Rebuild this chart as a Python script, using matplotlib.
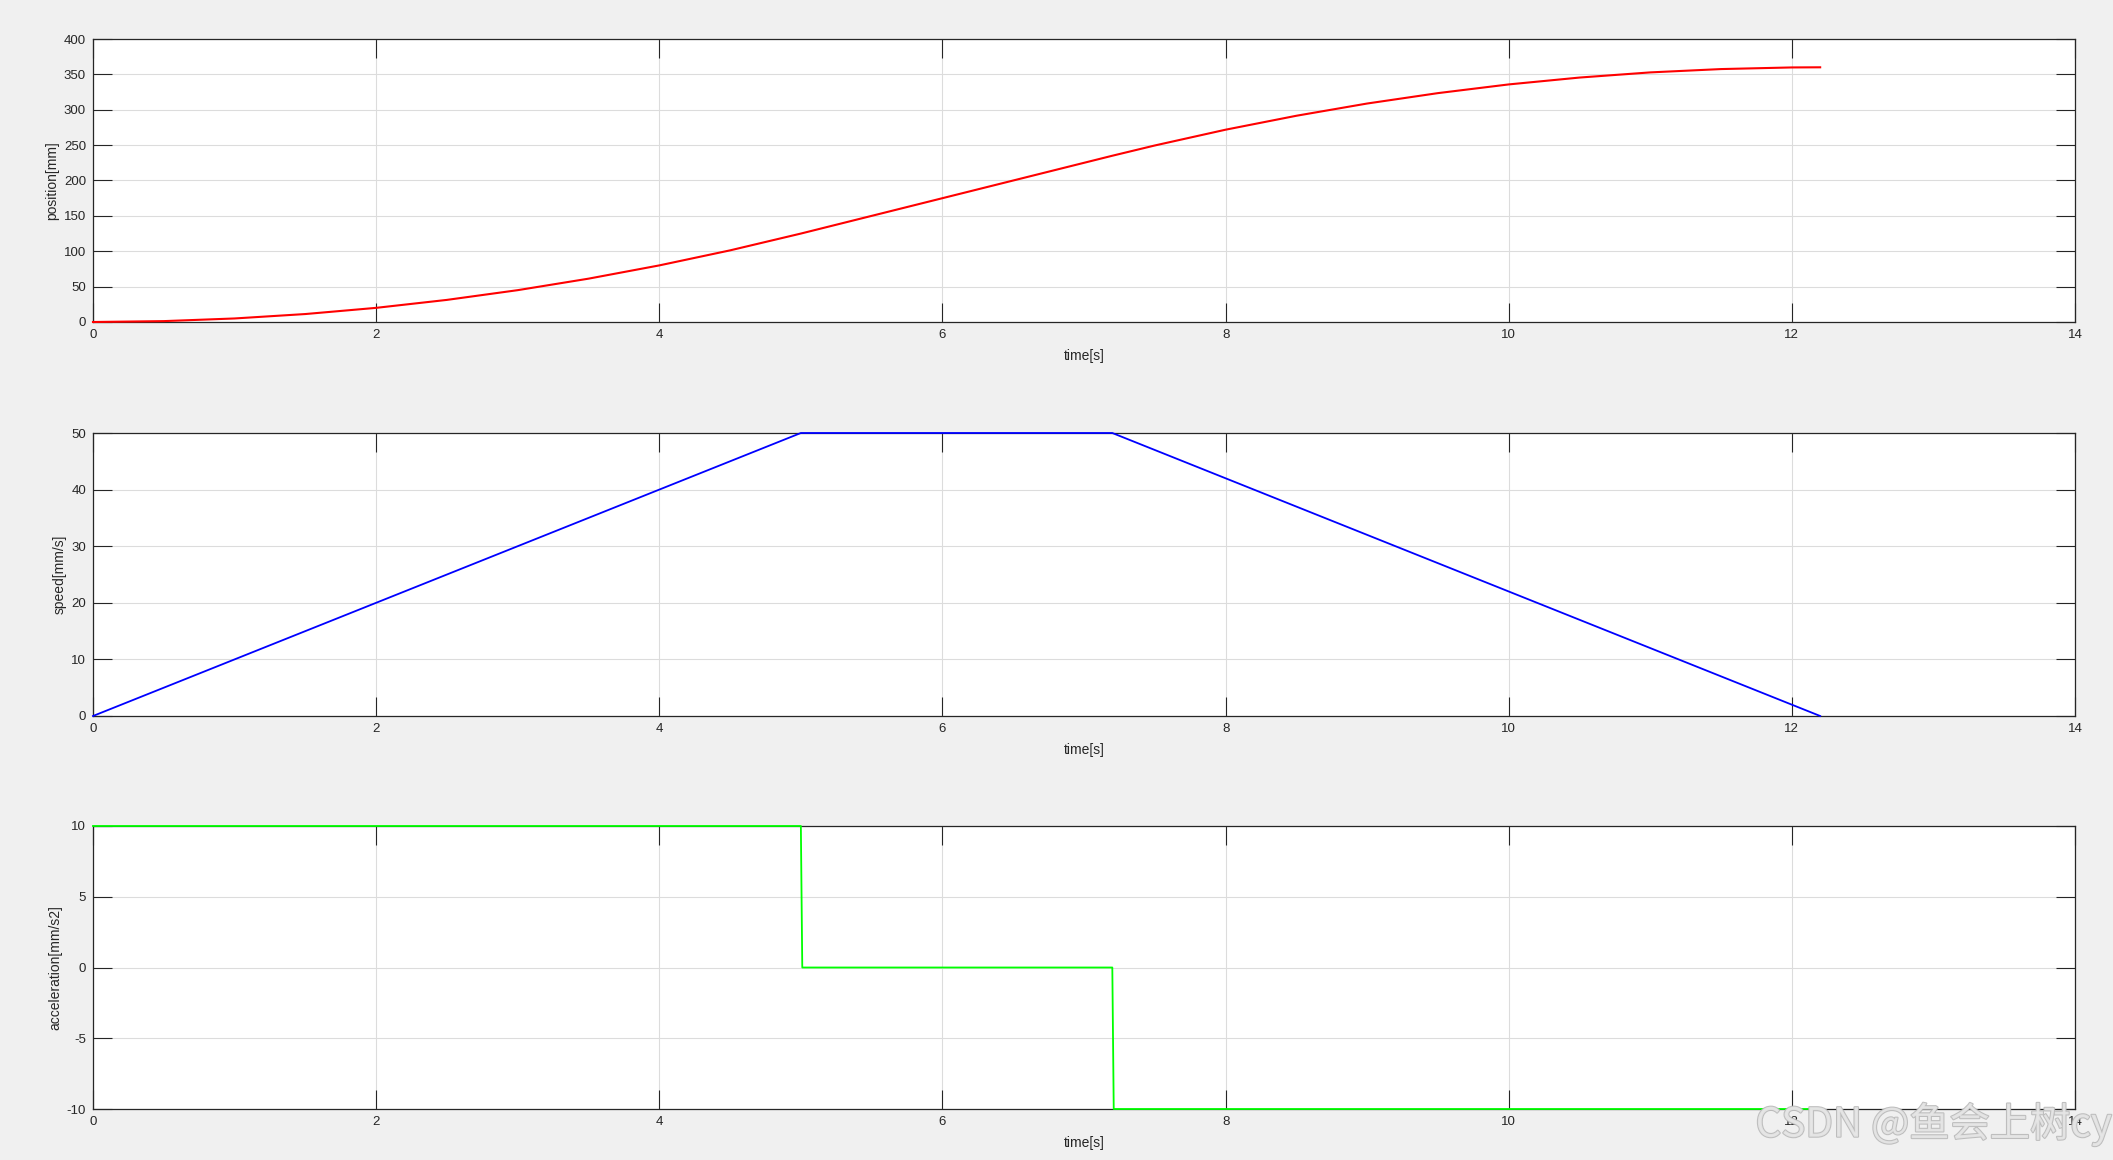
import matplotlib
matplotlib.use("Agg")
import matplotlib.pyplot as plt
import matplotlib.patheffects as pe

# 시간축 데이터
t_pos = [0, 0.5, 1, 1.5, 2, 2.5, 3, 3.5, 4, 4.5, 5, 5.5, 6, 6.5, 7, 7.2,
         7.5, 8, 8.5, 9, 9.5, 10, 10.5, 11, 11.5, 12, 12.2]
position = [0, 1.25, 5, 11.25, 20, 31.25, 45, 61.25, 80, 101.25, 125, 150, 175, 200, 225, 235,
            249.5, 271.8, 291.5, 308.8, 323.5, 335.8, 345.5, 352.8, 357.5, 359.8, 360]

t_spd = [0, 5, 7.2, 12.2]
speed = [0, 50, 50, 0]

t_acc = [0, 5.0, 5.01, 7.2, 7.21, 12.2]
accel = [10, 10, 0, 0, -10, -10]

x_ticks = [0, 2, 4, 6, 8, 10, 12, 14]
pos_ticks = [0, 50, 100, 150, 200, 250, 300, 350, 400]
spd_ticks = [0, 10, 20, 30, 40, 50]
acc_ticks = [-10, -5, 0, 5, 10]

plt.rcParams['font.family'] = ['Liberation Sans', 'DejaVu Sans']
plt.rcParams['font.size'] = 9.5
plt.rcParams['axes.unicode_minus'] = False  # 마이너스 기호는 하이픈으로

fig = plt.figure(figsize=(21.13, 11.6), dpi=100, facecolor='#f0f0f0')

left, width = 93 / 2113, (2075 - 93) / 2113
tops = [39, 433, 826]
h = (322 - 39) / 1160

panels = [
    (t_pos, position, 'red', 1.5, pos_ticks, (0, 400), 'position[mm]'),
    (t_spd, speed, 'blue', 1.3, spd_ticks, (0, 50), 'speed[mm/s]'),
    (t_acc, accel, '#00ff00', 1.3, acc_ticks, (-10, 10), 'acceleration[mm/s2]'),
]

for top, (tx, ty, col, lw, yt, ylim, ylab) in zip(tops, panels):
    ax = fig.add_axes([left, 1 - top / 1160 - h, width, h])
    ax.set_facecolor('white')
    ax.plot(tx, ty, color=col, lw=lw, clip_on=False, zorder=3)
    ax.set_xlim(0, 14)
    ax.set_ylim(*ylim)
    ax.set_xticks(x_ticks)
    ax.set_yticks(yt)
    ax.grid(True, color='#dcdcdc', lw=0.8)
    ax.set_axisbelow(True)
    ax.tick_params(direction='in', length=13.5, width=0.8, color='#262626',
                   labelcolor='#262626', top=True, right=True, pad=5, labelsize=9.5)
    for s in ax.spines.values():
        s.set_color('#262626')
        s.set_linewidth(0.9)
    ax.set_xlabel('time[s]', color='#262626', fontsize=10, labelpad=6)
    ax.set_ylabel(ylab, color='#262626', fontsize=10, labelpad=3)

# 워터마크
fig.text(0.9995, 0.031, 'CSDN @鱼会上树cy', ha='right', va='center', fontsize=29,
         color='#e6e6e6', family=['Noto Sans CJK SC', 'DejaVu Sans'],
         path_effects=[pe.withStroke(linewidth=1.5, foreground='#b8b8b8')], alpha=0.9)

fig.savefig('out.png', dpi=100, facecolor=fig.get_facecolor())
